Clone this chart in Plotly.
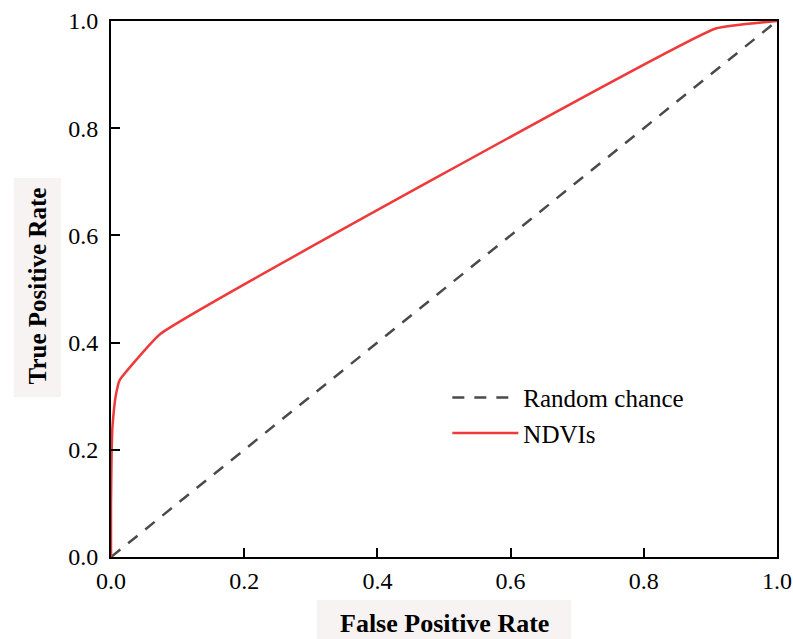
import plotly.graph_objects as go

fpr = [0.0, 0.0, 0.001, 0.002, 0.004, 0.007, 0.013, 0.074, 0.908, 1.0]
tpr = [0.0, 0.10, 0.20, 0.24, 0.27, 0.30, 0.330, 0.416, 0.986, 1.0]
chance_x = [0.0, 1.0]
chance_y = [0.0, 1.0]
tick_vals = [0.0, 0.2, 0.4, 0.6, 0.8, 1.0]
tick_text = ["0.0", "0.2", "0.4", "0.6", "0.8", "1.0"]

FONT = "Liberation Serif, Times New Roman, serif"

fig = go.Figure()
fig.add_trace(go.Scatter(x=chance_x, y=chance_y, mode="lines", name="Random chance",
                         line=dict(color="#4a4a4a", width=2.5, dash="12px,10px")))
fig.add_trace(go.Scatter(x=fpr, y=tpr, mode="lines", name="NDVIs",
                         line=dict(color="#ee3a3a", width=2.5, shape="spline", smoothing=0.3)))

axis_common = dict(range=[0, 1], tickvals=tick_vals, ticktext=tick_text,
                   ticks="inside", ticklen=9, tickwidth=2, tickcolor="black",
                   showline=True, linecolor="black", linewidth=2, mirror=True,
                   showgrid=False, zeroline=False, automargin=False,
                   tickfont=dict(family=FONT, size=24, color="black"))

fig.update_layout(
    width=793, height=639,
    margin=dict(l=111, r=16, t=21, b=82),
    paper_bgcolor="white", plot_bgcolor="white",
    xaxis=dict(**axis_common, ticklabelstandoff=1),
    yaxis=dict(**axis_common, ticklabelstandoff=6),
    showlegend=True,
    legend=dict(x=0.505, y=0.34, xanchor="left", yanchor="top",
                bgcolor="rgba(0,0,0,0)", itemwidth=66,
                font=dict(family=FONT, size=25, color="black"),
                tracegroupgap=0),
    shapes=[
        dict(type="rect", xref="paper", yref="paper", x0=0.309, x1=0.691, y0=-0.080, y1=-0.16,
             fillcolor="#f7f3f3", line=dict(width=0), layer="below"),
        dict(type="rect", xref="paper", yref="paper", x0=-0.146, x1=-0.075, y0=0.2985, y1=0.707,
             fillcolor="#f7f3f3", line=dict(width=0), layer="below"),
    ],
    annotations=[
        dict(text="<b>False Positive Rate</b>", xref="paper", yref="paper", x=0.5, y=-0.124,
             showarrow=False, xanchor="center", yanchor="middle",
             font=dict(family=FONT, size=26, color="black")),
        dict(text="<b>True Positive Rate</b>", xref="paper", yref="paper", x=-0.111, y=0.505,
             showarrow=False, xanchor="center", yanchor="middle", textangle=-90,
             font=dict(family=FONT, size=25, color="black")),
    ],
)

fig.write_html("out.html", config={"displayModeBar": False},
               post_script="document.body.style.margin='0';document.body.style.overflow='hidden';")
